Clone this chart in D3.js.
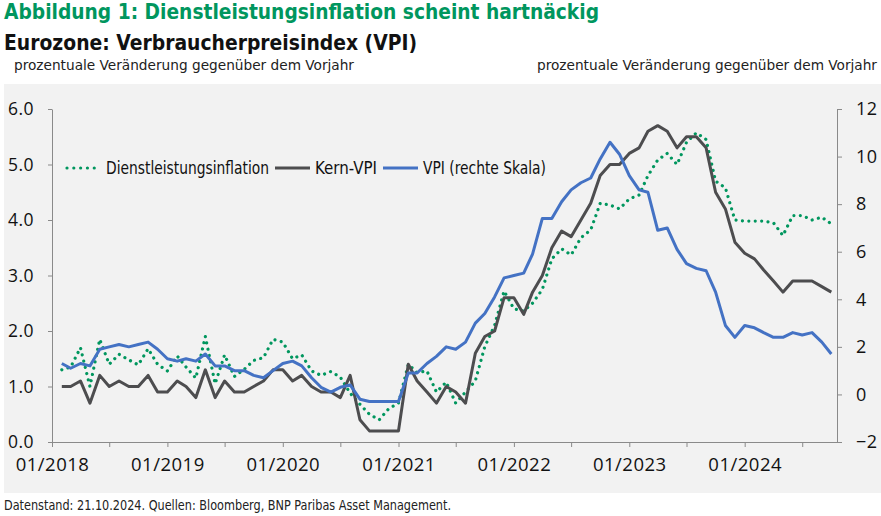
<!DOCTYPE html>
<html>
<head>
<meta charset="utf-8">
<script src="https://cdn.jsdelivr.net/npm/d3@7"></script>
<style>
  body { margin: 0; background: #fff; }
  svg { display: block; }
</style>
</head>
<body>
<svg></svg>
<script>
const wSvg = 881, hSvg = 516;

const narrow = "'Liberation Sans Narrow', 'DejaVu Sans Condensed', 'Roboto Condensed', sans-serif";
const plain = "'Open Sans', 'Noto Sans', sans-serif";

const green = "#00965e", coreColor = "#4d4d4f", blue = "#4472c4";

// monthly y/y rates, 01/2018 .. 09/2024
const startMonth = new Date(2018, 0, 1);

const services = [
    1.3, 1.35, 1.7, 1.0, 1.85, 1.4, 1.58, 1.48, 1.39, 1.68, 1.4, 1.28,
    1.55, 1.35, 1.15, 1.9, 1.05, 1.57, 1.18, 1.31, 1.47, 1.52, 1.85, 1.8,
    1.5, 1.57, 1.28, 1.2, 1.27, 1.17, 0.88, 0.68, 0.5, 0.4, 0.6, 0.7,
    1.4, 1.25, 1.28, 0.9, 1.08, 0.7, 0.9, 1.1, 1.72, 2.1, 2.72, 2.4,
    2.36, 2.5, 2.75, 3.3, 3.48, 3.37, 3.68, 3.82, 4.3, 4.27, 4.2, 4.38,
    4.45, 4.8, 5.08, 5.2, 5.0, 5.4, 5.57, 5.45, 4.7, 4.58, 4.0, 3.98,
    3.98, 3.98, 3.95, 3.72, 4.08, 4.08, 4.0, 4.05, 3.93
];

const core = [
    1.0, 1.0, 1.1, 0.7, 1.2, 1.0, 1.1, 1.0, 1.0, 1.2, 0.9, 0.9,
    1.1, 1.0, 0.8, 1.3, 0.8, 1.1, 0.9, 0.9, 1.0, 1.1, 1.3, 1.3,
    1.1, 1.2, 1.0, 0.9, 0.9, 0.8, 1.2, 0.4, 0.2, 0.2, 0.2, 0.2,
    1.4, 1.1, 0.9, 0.7, 1.0, 0.9, 0.7, 1.6, 1.9, 2.0, 2.6, 2.6,
    2.3, 2.7, 3.0, 3.5, 3.8, 3.7, 4.0, 4.3, 4.8, 5.0, 5.0, 5.2,
    5.3, 5.6, 5.7, 5.6, 5.3, 5.5, 5.5, 5.3, 4.5, 4.2, 3.6, 3.4,
    3.3, 3.1, 2.9, 2.7, 2.9, 2.9, 2.9, 2.8, 2.7
];

const headline = [
    1.3, 1.1, 1.3, 1.2, 1.9, 2.0, 2.1, 2.0, 2.1, 2.2, 1.9, 1.5,
    1.4, 1.5, 1.4, 1.7, 1.2, 1.2, 1.0, 1.0, 0.8, 0.7, 1.0, 1.3,
    1.4, 1.2, 0.7, 0.3, 0.1, 0.3, 0.4, -0.2, -0.3, -0.3, -0.3, -0.3,
    0.9, 0.9, 1.3, 1.6, 2.0, 1.9, 2.2, 3.0, 3.4, 4.1, 4.9, 5.0,
    5.1, 5.9, 7.4, 7.4, 8.1, 8.6, 8.9, 9.1, 9.9, 10.6, 10.1, 9.2,
    8.6, 8.5, 6.9, 7.0, 6.1, 5.5, 5.3, 5.2, 4.3, 2.9, 2.4, 2.9,
    2.8, 2.6, 2.4, 2.4, 2.6, 2.5, 2.6, 2.2, 1.7
];

const leftTicks = [0, 1, 2, 3, 4, 5, 6];
const rightTicks = [-2, 0, 2, 4, 6, 8, 10, 12];

const legendItems = [
    { label: "Dienstleistungsinflation", color: green, dotted: true, w: 163 },
    { label: "Kern-VPI", color: coreColor, dotted: false, w: 62 },
    { label: "VPI (rechte Skala)", color: blue, dotted: false, w: 123 }
];

// a month's value is plotted at the end of that month
const months = d3.range(services.length).map(i => d3.timeMonth.offset(startMonth, i + 1));

const svg = d3.select("svg")
    .attr("width", wSvg)
    .attr("height", hSvg)
;

svg.append("rect")
    .attr("x", 4).attr("y", 84)
    .attr("width", wSvg - 4).attr("height", 409)
    .attr("fill", "#f2f2f2")
;

// headings
svg.append("text")
    .attr("x", 4).attr("y", 19)
    .attr("font-family", narrow).attr("font-weight", "bold").attr("font-size", 22)
    .attr("fill", green)
    .attr("textLength", 595).attr("lengthAdjust", "spacingAndGlyphs")
    .text("Abbildung 1: Dienstleistungsinflation scheint hartnäckig")
;
svg.append("text")
    .attr("x", 4).attr("y", 50)
    .attr("font-family", narrow).attr("font-weight", "bold").attr("font-size", 21)
    .attr("fill", "#111")
    .attr("textLength", 413).attr("lengthAdjust", "spacingAndGlyphs")
    .text("Eurozone: Verbraucherpreisindex (VPI)")
;
svg.selectAll("text.unit")
    .data([{ x: 14, anchor: "start" }, { x: 877, anchor: "end" }])
    .enter()
    .append("text")
    .classed("unit", true)
    .attr("x", d => d.x).attr("y", 70)
    .attr("text-anchor", d => d.anchor)
    .attr("font-family", narrow).attr("font-size", 14.5)
    .attr("fill", "#222")
    .attr("textLength", 340).attr("lengthAdjust", "spacingAndGlyphs")
    .text("prozentuale Veränderung gegenüber dem Vorjahr")
;
svg.append("text")
    .attr("x", 4).attr("y", 510)
    .attr("font-family", narrow).attr("font-size", 13.5)
    .attr("fill", "#222")
    .attr("textLength", 447).attr("lengthAdjust", "spacingAndGlyphs")
    .text("Datenstand: 21.10.2024. Quellen: Bloomberg, BNP Paribas Asset Management.")
;

// scales
const x = d3.scaleTime()
    .domain([startMonth, new Date(2024, 9, 19)])
    .range([52, 837])
;
const yLeft = d3.scaleLinear().domain([0, 6]).range([442, 109]);
const yRight = d3.scaleLinear().domain([-2, 12]).range([442, 109]);

// axes
const axisStyle = g => {
    g.selectAll("path, line").attr("stroke", "#8a8a8a");
    g.selectAll("text")
        .attr("font-family", plain)
        .attr("fill", "#111")
        .attr("letter-spacing", 0.5);
};

svg.append("g")
    .attr("transform", "translate(52,0)")
    .call(d3.axisLeft(yLeft).tickValues(leftTicks).tickFormat(d3.format(".1f"))
        .tickSize(4).tickSizeOuter(0).tickPadding(14))
    .call(axisStyle)
    .call(g => g.selectAll("text").attr("font-size", 17.5))
;

svg.append("g")
    .attr("transform", "translate(837,0)")
    .call(d3.axisRight(yRight).tickValues(rightTicks).tickFormat(d3.format("d"))
        .tickSize(5).tickSizeOuter(0).tickPadding(14))
    .call(axisStyle)
    .call(g => g.selectAll("text").attr("font-size", 18))
;

svg.append("g")
    .attr("transform", "translate(0,442)")
    .call(d3.axisBottom(x).ticks(d3.timeMonth.every(6))
        .tickFormat(d => d.getMonth() === 0 ? d3.timeFormat("%m/%Y")(d) : "")
        .tickSize(5).tickSizeOuter(0).tickPadding(11))
    .call(axisStyle)
    .call(g => g.selectAll("text").attr("font-size", 18.5))
;

// lines
const lineLeft = d3.line().x((d, i) => x(months[i])).y(d => yLeft(d));
const lineRight = d3.line().x((d, i) => x(months[i])).y(d => yRight(d));

svg.append("path")
    .datum(services)
    .attr("d", lineLeft)
    .attr("fill", "none")
    .attr("stroke", green)
    .attr("stroke-width", 3.2)
    .attr("stroke-linecap", "round")
    .attr("stroke-dasharray", "0.01 6.4")
;

svg.append("path")
    .datum(core)
    .attr("d", lineLeft)
    .attr("fill", "none")
    .attr("stroke", coreColor)
    .attr("stroke-width", 3)
    .attr("stroke-linejoin", "round")
;

svg.append("path")
    .datum(headline)
    .attr("d", lineRight)
    .attr("fill", "none")
    .attr("stroke", blue)
    .attr("stroke-width", 3)
    .attr("stroke-linejoin", "round")
;

// legend
const legend = svg.append("g").attr("transform", "translate(66,168)");
let lx = 0;
legendItems.forEach(item => {
    legend.append("line")
        .attr("x1", lx + (item.dotted ? 1 : 0)).attr("x2", lx + 35)
        .attr("stroke", item.color)
        .attr("stroke-width", item.dotted ? 3.2 : 3)
        .attr("stroke-linecap", item.dotted ? "round" : "butt")
        .attr("stroke-dasharray", item.dotted ? "0.01 6.8" : null)
    ;
    legend.append("text")
        .attr("x", lx + 40).attr("y", 5.5)
        .attr("font-family", narrow).attr("font-size", 17)
        .attr("fill", "#111")
        .attr("textLength", item.w).attr("lengthAdjust", "spacingAndGlyphs")
        .text(item.label)
    ;
    lx += 40 + item.w + 6;
});
</script>
</body>
</html>
